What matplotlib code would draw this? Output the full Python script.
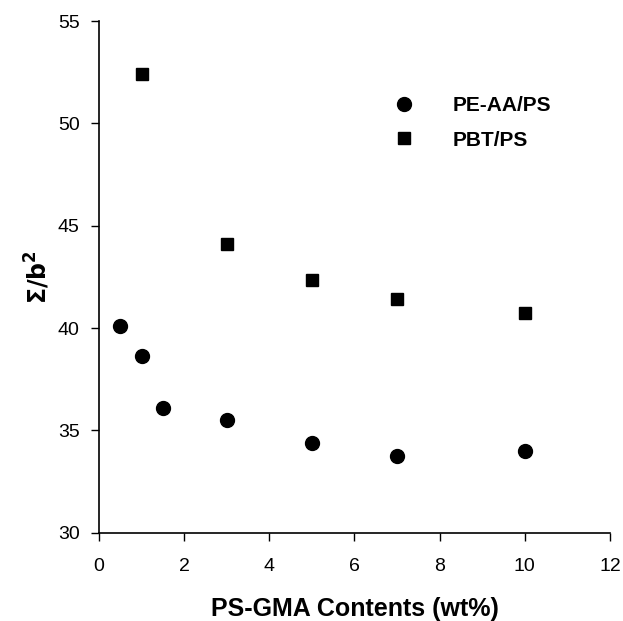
import matplotlib
matplotlib.use("Agg")
import matplotlib.pyplot as plt

# PS-GMA loading (wt%) and interfacial area per chain for each blend
peaa_x = [0.5, 1, 1.5, 3, 5, 7, 10]
peaa_y = [40.1, 38.65, 36.1, 35.5, 34.4, 33.75, 34.0]
pbt_x = [1, 3, 5, 7, 10]
pbt_y = [52.4, 44.1, 42.35, 41.4, 40.75]

xticks = [0, 2, 4, 6, 8, 10, 12]
yticks = [30, 35, 40, 45, 50, 55]

plt.rcParams["font.family"] = ["Liberation Sans", "DejaVu Sans"]

fig = plt.figure(figsize=(6.23, 6.21), dpi=100)
ax = fig.add_axes([0.159, 0.142, 0.82, 0.824])

ax.plot(peaa_x, peaa_y, "o", color="black", markersize=10, label="PE-AA/PS")
ax.plot(pbt_x, pbt_y, "s", color="black", markersize=9, label="PBT/PS")

ax.set_xlim(0, 12)
ax.set_ylim(30, 55)
ax.set_xticks(xticks)
ax.set_yticks(yticks)
ax.tick_params(direction="out", length=6, width=1, labelsize=14)
ax.tick_params(axis="x", pad=12)
ax.tick_params(axis="y", pad=8)

ax.spines["top"].set_visible(False)
ax.spines["right"].set_visible(False)
ax.spines["left"].set_linewidth(1.2)
ax.spines["bottom"].set_linewidth(1.2)

ax.set_xlabel("PS-GMA Contents (wt%)", fontsize=18, fontweight="bold", labelpad=16)
ax.set_ylabel(r"$\mathbf{\Sigma/b^2}$", fontsize=17, labelpad=4)

ax.legend(loc="upper left", bbox_to_anchor=(0.52, 0.89), frameon=False,
          handletextpad=1.3, labelspacing=0.75,
          prop={"weight": "bold", "size": 15})

fig.savefig("out.png", dpi=100)
